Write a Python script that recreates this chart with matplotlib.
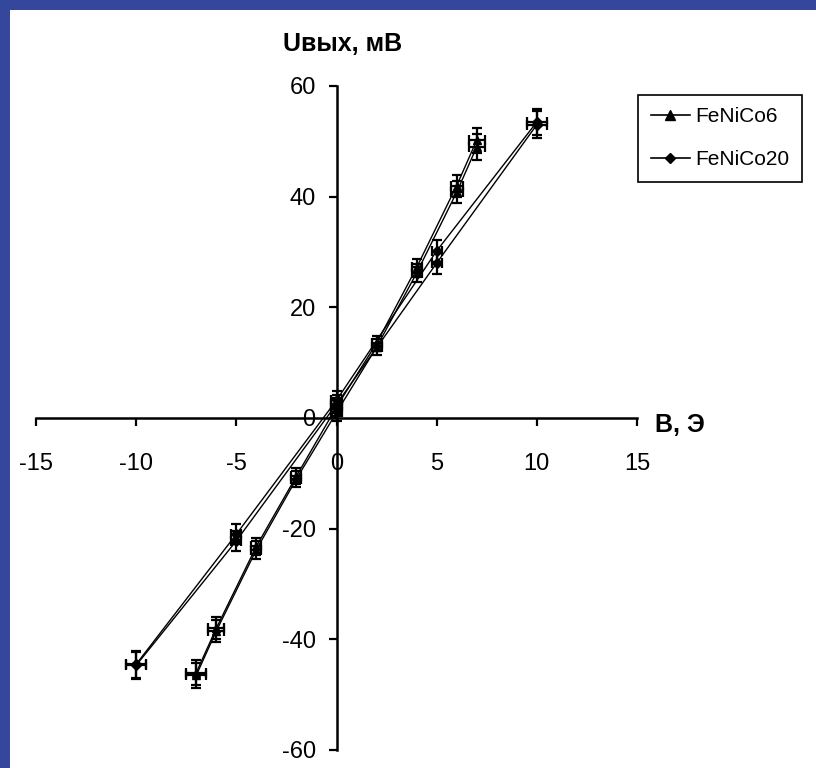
import matplotlib
matplotlib.use("Agg")
import matplotlib.pyplot as plt
from matplotlib.patches import Rectangle

plt.rcParams['font.family'] = ['Liberation Sans', 'DejaVu Sans']
plt.rcParams['axes.unicode_minus'] = False

# ---- data ----
x6 = [-7, -6, -4, -2, 0, 2, 4, 6, 7]
y6_up = [-46.5, -38.5, -23.8, -11.0, 1.0, 12.8, 26.2, 40.8, 49.0]
y6_down = [-46.0, -38.0, -23.2, -10.5, 2.0, 13.5, 27.2, 42.0, 50.2]
x6_err = [0.5, 0.4, 0.25, 0.25, 0.25, 0.25, 0.25, 0.3, 0.4]
y_err6 = [2.3, 2.0, 1.6, 1.4, 1.6, 1.4, 1.6, 2.0, 2.3]

x20 = [-10, -5, 0, 5, 10]
y20_up = [-44.7, -22.2, 2.5, 28.0, 53.0]
y20_down = [-44.5, -21.0, 3.2, 30.2, 53.5]
x20_err = [0.5, 0.25, 0.25, 0.25, 0.5]
y_err20 = [2.4, 1.8, 1.6, 2.0, 2.4]

x_ticks = [-15, -10, -5, 0, 5, 10, 15]
y_ticks = [-60, -40, -20, 0, 20, 40, 60]
labels = ['FeNiCo6', 'FeNiCo20']

W, H = 816, 768
fig = plt.figure(figsize=(W / 100, H / 100), dpi=100, facecolor='#34479c')
fig.patches.append(Rectangle((10 / W, 0), 1, 1 - 10 / H, transform=fig.transFigure,
                             facecolor='white', edgecolor='none', zorder=-5))

ax = fig.add_axes([36 / W, 1 - 750 / H, (637 - 36) / W, (750 - 86) / H])
ax.set_zorder(1)
ax.patch.set_alpha(0)
ax.set_xlim(-15, 15)
ax.set_ylim(-60, 60)
for s in ['top', 'right']:
    ax.spines[s].set_visible(False)
ax.spines['left'].set_position(('data', 0))
ax.spines['bottom'].set_position(('data', 0))
for s in ['left', 'bottom']:
    ax.spines[s].set_linewidth(1.8)
ax.set_xticks(x_ticks)
ax.set_yticks(y_ticks)
ax.tick_params(axis='both', direction='out', length=6, width=1.6, labelsize=17)
ax.tick_params(axis='x', pad=19)
ax.tick_params(axis='y', pad=9)

line_kw = dict(color='black', lw=1.0, zorder=2)
eb_kw = dict(fmt='none', ecolor='black', elinewidth=1.6, capsize=3.6, capthick=1.6, zorder=3)

# FeNiCo6
ax.plot(x6, y6_up, **line_kw)
ax.plot(x6, y6_down, **line_kw)
for yy in (y6_up, y6_down):
    ax.errorbar(x6, yy, xerr=x6_err, yerr=y_err6, **eb_kw)
    ax.plot(x6, yy, linestyle='none', marker='^', ms=6, color='black', zorder=4)

# FeNiCo20
ax.plot(x20, y20_up, **line_kw)
ax.plot(x20, y20_down, **line_kw)
for yy in (y20_up, y20_down):
    ax.errorbar(x20, yy, xerr=x20_err, yerr=y_err20, **eb_kw)
    ax.plot(x20, yy, linestyle='none', marker='D', ms=5, color='black', zorder=4)

# legend proxies
h1, = ax.plot([], [], color='black', lw=1.2, marker='^', ms=7)
h2, = ax.plot([], [], color='black', lw=1.2, marker='D', ms=5)
leg = fig.legend([h1, h2], labels, loc='upper left',
                 bbox_to_anchor=(638 / W, 1 - 95 / H), fontsize=15,
                 frameon=True, fancybox=False, shadow=False, framealpha=1,
                 edgecolor='black', borderpad=0.6, labelspacing=1.15,
                 handlelength=1.9, handletextpad=0.25, borderaxespad=0)
leg.get_frame().set_linewidth(1.2)
leg.set_zorder(5)

ax.text(15.9, -1.3, 'B, Э', ha='left', va='center', fontsize=18,
        fontweight='bold', clip_on=False)
fig.text(283 / W, 1 - 44 / H, 'Uвых, мВ', ha='left', va='center', fontsize=18,
         fontweight='bold')

fig.savefig('out.png', dpi=100, facecolor=fig.get_facecolor())
